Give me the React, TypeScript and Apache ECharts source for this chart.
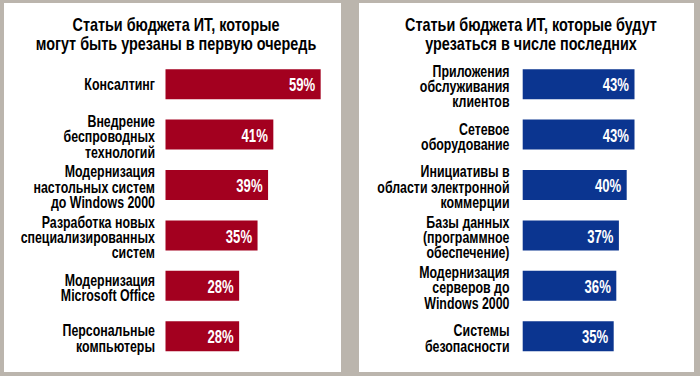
import React, { useEffect, useRef } from 'react';
import * as echarts from 'echarts';

const leftTitle = 'Статьи бюджета ИТ, которые\nмогут быть урезаны в первую очередь';
const rightTitle = 'Статьи бюджета ИТ, которые будут\nурезаться в числе последних';

const leftCategories = [
  'Консалтинг',
  'Внедрение\nбеспроводных\nтехнологий',
  'Модернизация\nнастольных систем\nдо Windows 2000',
  'Разработка новых\nспециализированных\nсистем',
  'Модернизация\nMicrosoft Office',
  'Персональные\nкомпьютеры',
];
const leftValues = [59, 41, 39, 35, 28, 28];

const rightCategories = [
  'Приложения\nобслуживания\nклиентов',
  'Сетевое\nоборудование',
  'Инициативы в\nобласти электронной\nкоммерции',
  'Базы данных\n(программное\nобеспечение)',
  'Модернизация\nсерверов до\nWindows 2000',
  'Системы\nбезопасности',
];
const rightValues = [43, 43, 40, 37, 36, 35];

const FONT = "'Liberation Sans', Arial, sans-serif";
const RED = '#A3001F';
const BLUE = '#0B3590';
const GRAY = '#BBB5AD';
const SX = 0.75;

export default function App() {
  const ref = useRef<HTMLDivElement>(null);
  useEffect(() => {
    if (!ref.current) return;
    const chart = echarts.init(ref.current, null, { renderer: 'svg' });
    const grids = [
      { left: 165.5, top: 59, width: 60 * 2.63, height: 302.4, outerBoundsMode: 'none' },
      { left: 522.7, top: 59, width: 45 * 2.6, height: 302.4, outerBoundsMode: 'none' },
    ];
    const catAxis = (gridIndex: number, data: string[]) => ({
      type: 'category' as const,
      gridIndex,
      data,
      inverse: true,
      axisLine: { show: false },
      axisTick: { show: false },
      axisLabel: { show: false },
    });
    const valAxis = (gridIndex: number, max: number) => ({
      type: 'value' as const,
      gridIndex,
      min: 0,
      max,
      show: false,
      splitLine: { show: false },
    });
    chart.setOption({
      animation: false,
      backgroundColor: GRAY,
      grid: grids,
      xAxis: [valAxis(0, 60), valAxis(1, 45)],
      yAxis: [catAxis(0, leftCategories), catAxis(1, rightCategories)],
      series: [
        { type: 'bar', xAxisIndex: 0, yAxisIndex: 0, data: leftValues, barWidth: 30, itemStyle: { color: RED } },
        { type: 'bar', xAxisIndex: 1, yAxisIndex: 1, data: rightValues, barWidth: 30, itemStyle: { color: BLUE } },
      ],
    });

    const graphics: any[] = [
      { type: 'rect', shape: { x: 4, y: 3, width: 337, height: 369 }, style: { fill: '#fff' }, z: -10, silent: true },
      { type: 'rect', shape: { x: 359, y: 3, width: 335, height: 369 }, style: { fill: '#fff' }, z: -10, silent: true },
      {
        type: 'text', x: 176, y: 34, scaleX: 0.8,
        style: { text: leftTitle, fill: '#000', font: `bold 18px ${FONT}`, align: 'center', verticalAlign: 'middle', lineHeight: 19 },
      },
      {
        type: 'text', x: 531, y: 34, scaleX: 0.8,
        style: { text: rightTitle, fill: '#000', font: `bold 18px ${FONT}`, align: 'center', verticalAlign: 'middle', lineHeight: 19 },
      },
    ];
    const panels = [
      { cats: leftCategories, vals: leftValues, labelRight: 155 },
      { cats: rightCategories, vals: rightValues, labelRight: 509.5 },
    ];
    panels.forEach((p, k) => {
      p.cats.forEach((c, i) => {
        const y = chart.convertToPixel({ yAxisIndex: k } as any, i) as number;
        const multi = c.indexOf('\n') >= 0;
        graphics.push({
          type: 'text', x: p.labelRight, y: y + (multi ? 2 : 0.5), scaleX: SX,
          style: { text: c, fill: '#000', font: `bold 16.5px ${FONT}`, align: 'right', verticalAlign: 'middle', lineHeight: 15.3 },
        });
        const pt = chart.convertToPixel({ xAxisIndex: k, yAxisIndex: k } as any, [p.vals[i], i]) as number[];
        graphics.push({
          type: 'text', x: pt[0] - 5.5, y: pt[1] + 1, scaleX: SX, z: 100,
          style: { text: p.vals[i] + '%', fill: '#fff', font: `bold 17.5px ${FONT}`, align: 'right', verticalAlign: 'middle' },
        });
      });
    });
    chart.setOption({ graphic: graphics });
    return () => chart.dispose();
  }, []);
  return <div ref={ref} style={{ position: 'absolute', left: 0, top: 0, width: 700, height: 376 }} />;
}
